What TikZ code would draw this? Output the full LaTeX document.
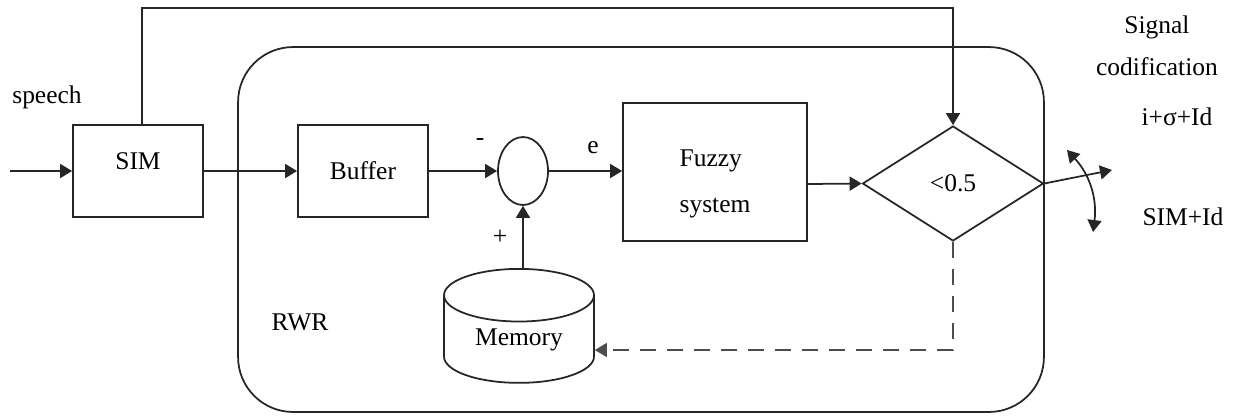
\documentclass[tikz,border=0pt]{standalone}
\usepackage{fontspec}
\setmainfont{Liberation Serif}
\usetikzlibrary{shapes.geometric, arrows.meta, positioning, calc}
\tikzset{
    box/.style={draw=black!85, line width=1pt, fill=white, minimum width=2.6cm, minimum height=1.84cm},
    arrow/.style={-{Triangle[length=2.4mm,width=2.8mm]}, line width=1pt, black!85},
    dasharrow/.style={-{Triangle[length=2.4mm,width=2.8mm]}, dashed, dash pattern=on 3.2mm off 2.2mm, line width=1pt, black!70},
    plain/.style={inner sep=0pt}
}
\begin{document}
\begin{tikzpicture}[x=0.02cm, y=-0.02cm, font=\fontsize{14.5pt}{17pt}\selectfont]
        \useasboundingbox (0,0) rectangle (1234,417);
        % outer block
        \node [draw=black!85, line width=1pt, rounded corners=1.1cm, minimum width=16.12cm, minimum height=7.3cm] (rwr) at (641,229.5) {};
        \node [plain] at (300,322) {RWR};
        % blocks
        \node [box, label={[yshift=2mm]center:SIM}] (sim) at (138,171) {};
        \node [box] (buf) at (363,171) {Buffer};
        \node [draw=black!85, line width=1pt, fill=white, ellipse, minimum width=1cm, minimum height=1.36cm, inner sep=0pt] (sum) at (523,171) {};
        \node [box, minimum width=3.68cm, minimum height=2.76cm, label={[yshift=-2.4mm, align=left]center:{Fuzzy\\[3.2mm]system}}] (fuzzy) at (715,172) {};
        \node [draw=black!85, line width=1pt, fill=white, diamond, minimum width=3.62cm, minimum height=2.3cm, inner sep=0pt] (cmp) at (953,183.5) {\raisebox{-1.2mm}{<0.5}};
        \node [draw=black!85, line width=1pt, fill=white, cylinder, shape border rotate=90, aspect=0.6, minimum width=3cm, minimum height=2.28cm, inner sep=0pt, anchor=north] (mem) at (519,268) {\raisebox{-2.6mm}{Memory}};
        % free ends
        \coordinate (in) at (10,171);
        \coordinate (out) at (1112,170);
        \coordinate (swa) at (1067,150);
        \coordinate (swb) at (1093,232);
        % connectors
        \draw [arrow] (in) -- (sim);
        \draw [arrow] (sim) -- (buf);
        \draw [arrow] (buf) -- (sum);
        \draw [arrow] (sum) -- (fuzzy.west |- sum);
        \draw [arrow] ([yshift=-0.24cm]fuzzy.east) -- (cmp.west);
        \draw [arrow] ([xshift=0.08cm]sim.north) -- ++(0,2.32cm) -| (cmp.north);
        \draw [arrow] (mem.north -| sum.south) -- (sum.south);
        \draw [dasharrow] (cmp.south) |- (mem.east |- 0,350);
        \draw [arrow] (cmp.east) -- (out);
        \draw [{Triangle[length=2.4mm,width=2.8mm]}-{Triangle[length=2.4mm,width=2.8mm]}, line width=1pt, black!85] (swa) to[bend left=25] (swb);
        % labels
        \node [plain] at (47,97) {speech};
        \node [plain] at (480,142) {-};
        \node [plain] at (500,237) {+};
        \node [plain] at (593,148) {e};
        \node [plain] at (1157,27) {Signal};
        \node [plain] at (1157,67) {codification};
        \node [plain] at (1177,117) {i+σ+Id};
        \node [plain] at (1183,217) {SIM+Id};
    \end{tikzpicture}
\end{document}
